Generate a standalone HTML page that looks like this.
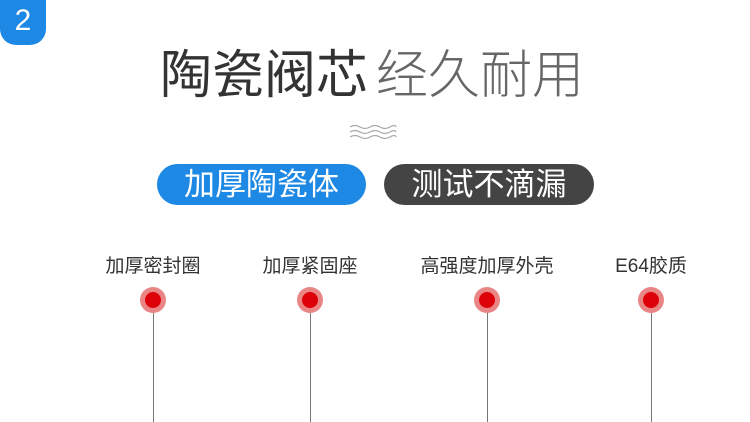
<!DOCTYPE html>
<html><head><meta charset="utf-8"><style>
body{margin:0;width:750px;height:422px;background:#fff;position:relative;overflow:hidden;font-family:"Liberation Sans","Noto Sans CJK SC",sans-serif}
.a{position:absolute;white-space:nowrap}
.badge{left:0;top:0;width:46px;height:45px;background:#1e88e5;border-radius:0 0 16px 16px;color:#fff;font-size:30px;text-align:center;line-height:42px}
.pill{height:41px;top:164px;border-radius:21px;color:#fff;font-size:31px;text-align:center;line-height:41px}
.lb{top:251px;font-size:19px;color:#333;transform:translateX(-50%)}
.dot{top:287px;width:26px;height:26px;border-radius:50%;background:#ea8585;margin-left:-13px}
.dot:after{content:"";position:absolute;left:5px;top:5px;width:16px;height:16px;border-radius:50%;background:#dd0008}
.ln{top:300px;width:1px;height:122px;background:#777}
</style></head><body>
<div class="a badge">2</div>
<div class="a" style="left:160px;top:44px;font-size:52px;color:#333;line-height:64px">陶瓷阀芯</div>
<div class="a" style="left:376px;top:44px;font-size:52px;color:#666;font-weight:300;line-height:64px">经久耐用</div>
<svg class="a" style="left:349px;top:124px" width="48" height="16" viewBox="0 0 48 16">
<g fill="none" stroke="#aaa" stroke-width="1.3">
<path d="M1 3 q5 -3 10 0 t10 0 t10 0 t10 0 t6 0"/>
<path d="M1 8 q5 -3 10 0 t10 0 t10 0 t10 0 t6 0"/>
<path d="M1 13 q5 -3 10 0 t10 0 t10 0 t10 0 t6 0"/>
</g></svg>
<div class="a pill" style="left:157px;width:209px;background:#1e88e5">加厚陶瓷体</div>
<div class="a pill" style="left:384px;width:210px;background:#444">测试不滴漏</div>
<div class="a lb" style="left:153px">加厚密封圈</div>
<div class="a lb" style="left:310px">加厚紧固座</div>
<div class="a lb" style="left:487px">高强度加厚外壳</div>
<div class="a lb" style="left:651px">E64胶质</div>
<div class="a ln" style="left:153px"></div>
<div class="a ln" style="left:310px"></div>
<div class="a ln" style="left:487px"></div>
<div class="a ln" style="left:651px"></div>
<div class="a dot" style="left:153px"></div>
<div class="a dot" style="left:310px"></div>
<div class="a dot" style="left:487px"></div>
<div class="a dot" style="left:651px"></div>
</body></html>
